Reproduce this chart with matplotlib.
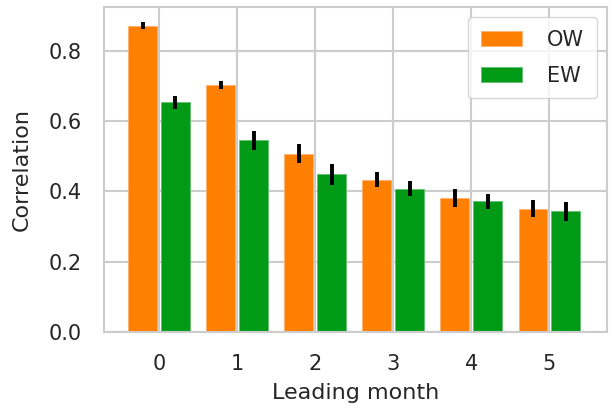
import matplotlib
matplotlib.use("Agg")
import matplotlib.pyplot as plt
import seaborn as sns
import numpy as np

months = [0, 1, 2, 3, 4, 5]
ow = [0.871, 0.703, 0.507, 0.433, 0.381, 0.350]
ow_err = [0.009, 0.012, 0.027, 0.022, 0.025, 0.024]
ew = [0.653, 0.545, 0.448, 0.407, 0.372, 0.344]
ew_err = [0.019, 0.027, 0.029, 0.021, 0.021, 0.027]

sns.set_theme(style="whitegrid")
plt.rcParams['font.family'] = ['DejaVu Sans']

fig = plt.figure(figsize=(6.12, 4.13), dpi=100)
ax = fig.add_axes([0.17, 0.196, 0.822, 0.787])

x = np.arange(len(months))
w = 0.37
off = 0.21
ax.bar(x - off, ow, w, yerr=ow_err, color="#ff7f00", label="OW",
       edgecolor="#ffb070", linewidth=0.6,
       error_kw=dict(ecolor="black", elinewidth=2.8, capsize=0))
ax.bar(x + off, ew, w, yerr=ew_err, color="#009a17", label="EW",
       edgecolor="#60c070", linewidth=0.6,
       error_kw=dict(ecolor="black", elinewidth=2.8, capsize=0))

ax.set_xlim(-0.705, 5.74)
ax.set_xticks(x)
ax.set_xticklabels([str(m) for m in months])
ax.set_yticks([0.0, 0.2, 0.4, 0.6, 0.8])
ax.tick_params(labelsize=15, pad=10)
ax.set_xlabel("Leading month", fontsize=16, labelpad=6)
ax.set_ylabel("Correlation", fontsize=16, labelpad=12)
for s in ax.spines.values():
    s.set_color("#cccccc")
    s.set_linewidth(1.5)
ax.grid(True, color="#cccccc", linewidth=1.5)
ax.set_axisbelow(True)
ax.legend(fontsize=15, loc="upper right", handlelength=2.0, handletextpad=1.2,
          labelspacing=0.75, borderpad=0.6)

fig.savefig("out.png", dpi=100)
